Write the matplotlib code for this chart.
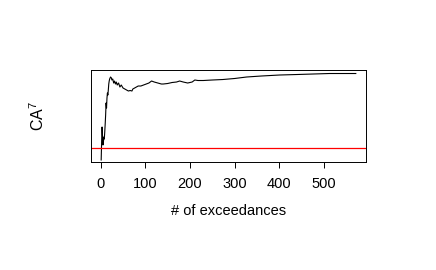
import matplotlib.pyplot as plt

# running estimate against number of exceedances
n_exc = [1, 2, 3, 4, 5, 6, 7, 8, 9, 10, 11, 12, 13, 14, 15, 16, 17, 18, 19, 20,
         22, 24, 25, 27, 29, 31, 33, 35, 37, 40, 43, 46, 50, 54, 58, 62, 66, 70,
         72, 76, 80, 84, 90, 96, 102, 108, 114, 120, 128, 136, 140, 150, 160,
         170, 177, 185, 195, 205, 211, 218, 230, 250, 274, 300, 327, 360, 401,
         440, 476, 513, 540, 572]
ca7 = [-1.2, 0.6, 2.1, 1.2, 0.3, 0.6, 1.1, 0.9, 1.6, 2.4, 3.3, 4.5, 4.0, 5.0,
       5.5, 5.3, 5.8, 6.4, 6.7, 6.9, 7.1, 7.0, 6.8, 6.9, 6.5, 6.7, 6.4, 6.6,
       6.3, 6.5, 6.1, 6.3, 6.0, 5.9, 5.8, 5.7, 5.75, 5.7, 5.9, 6.0, 6.1, 6.2,
       6.2, 6.3, 6.4, 6.5, 6.7, 6.6, 6.5, 6.4, 6.4, 6.45, 6.55, 6.6, 6.7, 6.6,
       6.5, 6.6, 6.8, 6.75, 6.75, 6.8, 6.85, 6.95, 7.1, 7.2, 7.3, 7.35, 7.4,
       7.45, 7.45, 7.45]
threshold = 0.0

plt.rcParams['font.family'] = ['Liberation Sans', 'DejaVu Sans']
plt.rcParams['mathtext.fontset'] = 'custom'
plt.rcParams['mathtext.rm'] = 'Liberation Sans'
plt.rcParams['mathtext.it'] = 'Liberation Sans'

fig = plt.figure(figsize=(4.36, 2.70), dpi=100)
ax = fig.add_axes([0.2087, 0.4, 0.6307, 0.3407])

ax.plot(n_exc, ca7, color='black', linewidth=0.8)
ax.axhline(threshold, color='#FF0000', linewidth=0.9)

span = n_exc[-1] - n_exc[0]
ax.set_xlim(n_exc[0] - 0.04 * span, n_exc[-1] + 0.04 * span)
ax.set_ylim(-1.4, 7.8)

ax.set_xticks([0, 100, 200, 300, 400, 500])
ax.set_yticks([])
ax.tick_params(axis='x', length=4, width=0.7, pad=7, labelsize=10.5)
for s in ax.spines.values():
    s.set_linewidth(0.7)

ax.set_xlabel('# of exceedances', fontsize=10.5, labelpad=9)
ax.set_ylabel(r'CA$^{\mathrm{7}}$', fontsize=11.5)
ax.yaxis.set_label_coords(-0.16, 0.5)

plt.savefig('out.png', dpi=100)
